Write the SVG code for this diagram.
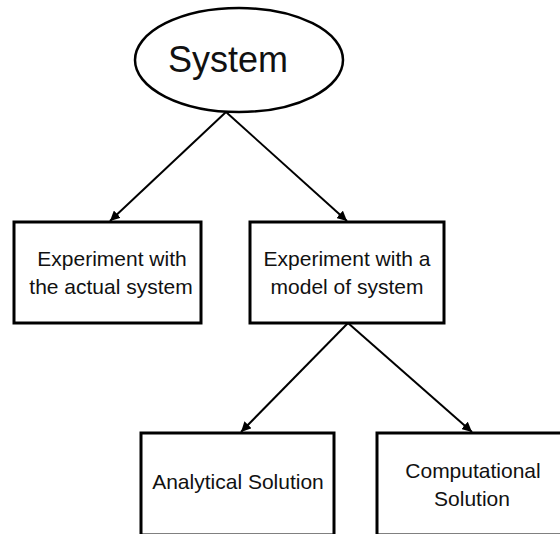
<svg xmlns="http://www.w3.org/2000/svg" width="560" height="534" viewBox="0 0 560 534">
  <defs>
    <style>
      .shape { fill: #ffffff; stroke: #000000; stroke-width: 3; }
      .oval { fill: #ffffff; stroke: #000000; stroke-width: 2.5; }
      .label { font-family: "Liberation Sans", Arial, sans-serif; font-size: 21px; fill: #111111; text-anchor: middle; }
      .title { font-family: "Liberation Sans", Arial, sans-serif; font-size: 36px; fill: #111111; text-anchor: middle; }
      .edge { stroke: #000000; stroke-width: 2; fill: none; marker-end: url(#arrow); }
    </style>
    <marker id="arrow" viewBox="0 0 10 10" refX="10" refY="5" markerWidth="5" markerHeight="5" orient="auto" markerUnits="strokeWidth">
      <path d="M0,0 L10,5 L0,10 z" fill="#000000"/>
    </marker>
  </defs>
  <rect width="560" height="534" fill="#ffffff"/>

  <g id="connectors">
    <line class="edge" x1="226" y1="112" x2="110" y2="221"/>
    <line class="edge" x1="226" y1="112" x2="347" y2="221"/>
    <line class="edge" x1="348" y1="323" x2="241" y2="432"/>
    <line class="edge" x1="348" y1="323" x2="472" y2="432"/>
  </g>

  <g id="system">
    <ellipse class="oval" cx="239" cy="60" rx="104" ry="52"/>
    <text class="title" x="228" y="72">System</text>
  </g>

  <g id="actual-system">
    <rect class="shape" x="14" y="222" width="187" height="101"/>
    <text class="label" x="112" y="266">Experiment with</text>
    <text class="label" x="111" y="294">the actual system</text>
  </g>

  <g id="model-system">
    <rect class="shape" x="250" y="222" width="194" height="101"/>
    <text class="label" x="347" y="266">Experiment with a</text>
    <text class="label" x="347" y="294">model of system</text>
  </g>

  <g id="analytical">
    <rect class="shape" x="141" y="433" width="193" height="102"/>
    <text class="label" x="238" y="489">Analytical Solution</text>
  </g>

  <g id="computational">
    <rect class="shape" x="377" y="433" width="190" height="102"/>
    <text class="label" x="473" y="478">Computational</text>
    <text class="label" x="472" y="506">Solution</text>
  </g>
</svg>
